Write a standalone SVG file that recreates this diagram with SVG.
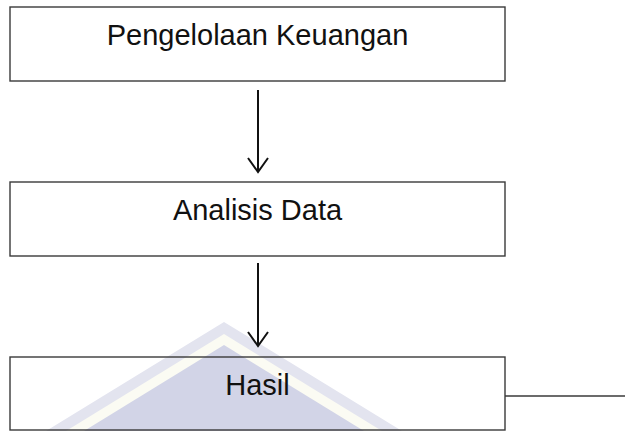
<svg xmlns="http://www.w3.org/2000/svg" width="625" height="431" viewBox="0 0 625 431">
<style>
.box{fill:none;stroke:#3a3a3a;stroke-width:1.4}
.lbl{font-family:"Liberation Sans",Arial,sans-serif;font-size:29px;fill:#111;text-anchor:middle}
.arr{stroke:#111;stroke-width:2;fill:none}
.edge{stroke:#3a3a3a;stroke-width:1.4;fill:none}
</style>
<rect width="625" height="431" fill="#fff"/>
<g id="watermark">
<polygon points="224,322 46,431 402,431" fill="#e3e4ef"/>
<polygon points="224,334 66,431 382,431" fill="#fbfbf3"/>
<polygon points="224,345 84,431 364,431" fill="#d2d4e7"/>
</g>
<g id="connectors">
<line class="arr" x1="258" y1="90" x2="258" y2="172"/>
<polyline class="arr" points="248,158 258,172 268,158"/>
<line class="arr" x1="258" y1="263" x2="258" y2="346"/>
<polyline class="arr" points="248,332 258,346 268,332"/>
<line class="edge" x1="505" y1="396" x2="625" y2="396"/>
</g>
<g id="node-pengelolaan">
<rect class="box" x="10" y="7" width="495" height="74"/>
<text class="lbl" x="257.5" y="45">Pengelolaan Keuangan</text>
</g>
<g id="node-analisis">
<rect class="box" x="10" y="182" width="495" height="74"/>
<text class="lbl" x="257.5" y="220">Analisis Data</text>
</g>
<g id="node-hasil">
<rect class="box" x="10" y="357" width="495" height="73"/>
<text class="lbl" x="257.5" y="395">Hasil</text>
</g>
</svg>
